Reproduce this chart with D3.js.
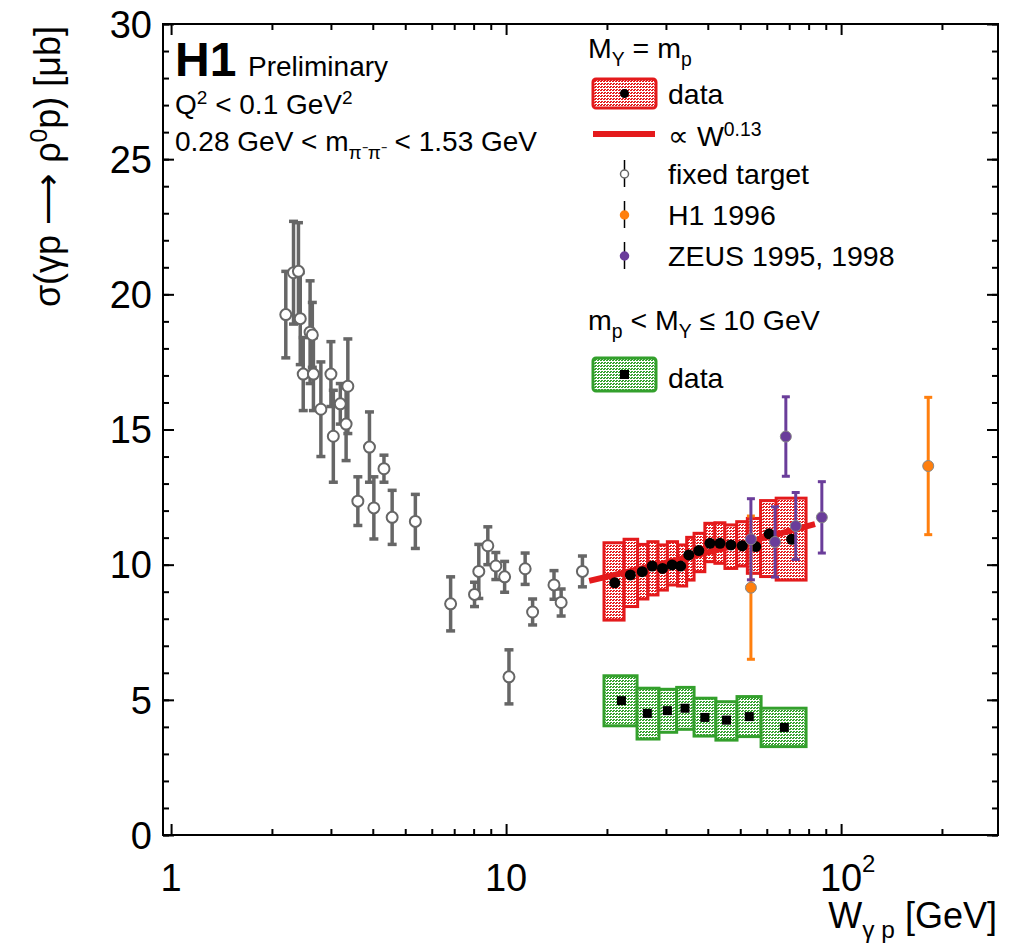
<!DOCTYPE html>
<html>
<head>
<meta charset="utf-8">
<script src="https://cdn.jsdelivr.net/npm/d3@7"></script>
<style>
  body { margin: 0; background: #fff; }
  text { font-family: "Liberation Sans", Arial, Helvetica, sans-serif; fill: #000; }
</style>
</head>
<body>
<div id="chart"></div>
<script>
// plot frame in page pixels
var frame = { left: 163, right: 998, top: 24, bottom: 835 },
    width = 1016,
    height = 945;

// fixed target measurements (W, sigma, error)
var fixedW = [2.20, 2.32, 2.40, 2.43, 2.48, 2.60, 2.64, 2.66, 2.80, 3.00, 3.05, 3.20, 3.33, 3.37, 3.61, 3.91,
              4.03, 4.32, 4.57, 5.36, 6.83, 8.05, 8.29, 8.82, 9.32, 9.90, 10.2, 11.4, 12.0, 13.9, 14.6, 16.9];
var fixedS = [19.25, 20.8, 20.85, 19.1, 17.05, 18.6, 18.5, 17.05, 15.75, 17.05, 14.75, 15.95, 15.2, 16.6, 12.35, 14.35,
              12.1, 13.55, 11.75, 11.6, 8.55, 8.9, 9.75, 10.7, 9.95, 9.55, 5.85, 9.85, 8.25, 9.25, 8.6, 9.75];
var fixedE = [1.6, 1.9, 1.8, 1.7, 1.35, 1.9, 1.2, 1.35, 1.75, 1.2, 1.7, 0.75, 1.35, 1.75, 0.9, 1.3,
              1.15, 0.5, 1.0, 1.0, 1.0, 0.45, 1.0, 0.7, 0.5, 0.57, 1.0, 0.58, 0.48, 0.53, 0.5, 0.57];

// H1 data, M_Y = m_p (bins, points, box extent)
var elEdges = [19.6, 22.5, 24.7, 26.5, 28.4, 30.3, 32.5, 34.6, 36.4, 39.2, 42.0, 45.0, 48.8, 52.5, 57.5, 64.0, 78.6];
var elW  = [21.1, 23.5, 25.5, 27.3, 29.3, 31.3, 33.2, 35.1, 37.6, 40.6, 43.5, 46.9, 50.7, 55.6, 61.0, 71.2];
var elS  = [9.33, 9.62, 9.74, 9.95, 9.86, 9.99, 9.95, 10.36, 10.52, 10.79, 10.79, 10.73, 10.70, 10.67, 11.14, 10.94];
var elLo = [7.95, 8.45, 8.73, 8.88, 9.06, 9.25, 9.21, 9.43, 9.74, 10.11, 10.05, 9.86, 9.95, 9.68, 9.56, 9.43];
var elHi = [10.81, 10.94, 10.75, 10.85, 10.73, 10.85, 10.73, 11.01, 11.16, 11.53, 11.55, 11.47, 11.59, 11.71, 12.37, 12.46];

// H1 data, m_p < M_Y <= 10 GeV
var pdEdges = [19.6, 24.6, 28.6, 32.3, 36.4, 42.3, 48.9, 57.7, 78.6];
var pdW  = [22.1, 26.4, 30.3, 34.2, 39.2, 45.5, 53.2, 67.7];
var pdS  = [4.97, 4.50, 4.60, 4.69, 4.35, 4.25, 4.38, 3.98];
var pdLo = [4.04, 3.55, 3.80, 3.91, 3.66, 3.51, 3.64, 3.27];
var pdHi = [5.89, 5.43, 5.39, 5.46, 5.06, 4.93, 5.12, 4.69];

// fit curve ~ W^0.13
var fitW = [17.7, 30, 50, 83.6];
var fitS = [9.40, 10.07, 10.76, 11.50];

// H1 1996 and ZEUS
var h1W = [53.8, 182];
var h1S = [9.15, 13.65];
var h1E = [2.65, 2.54];
var zeusW = [53.8, 63.5, 68.4, 73.2, 87.6];
var zeusS = [10.94, 10.84, 14.74, 11.43, 11.75];
var zeusE = [1.5, 1.3, 1.47, 1.24, 1.32];

// ticks
var xMajor = [1, 10, 100];
var xLabels = ["1", "10", "10"];
var xLabelSup = ["", "", "2"];
var xMinor = [2, 3, 4, 5, 6, 7, 8, 9, 20, 30, 40, 50, 60, 70, 80, 90, 200];
var yMajor = [0, 5, 10, 15, 20, 25, 30];
var yMinor = d3.range(0, 31, 1);

var red = "#e41a1c", green = "#33a02c", grey = "#666666",
    orange = "#ff7f0e", purple = "#6a3d9a";
var legSize = 28.5;

var x = d3.scaleLog().domain([0.946, 294]).range([frame.left, frame.right]);
var y = d3.scaleLinear().domain([0, 30]).range([frame.bottom, frame.top]);

// text with sub / superscripts
function rich(parent, px, py, parts, size) {
  var t = parent.append("text").attr("x", px).attr("y", py).attr("font-size", size);
  var shift = 0;
  parts.forEach(function (p) {
    var target = p[1] == "sub" ? size * 0.28 : (p[1] == "sup" ? -size * 0.36 : 0);
    t.append("tspan")
     .attr("dy", target - shift)
     .attr("font-size", p[1] ? size * 0.68 : size)
     .text(p[0]);
    shift = target;
  });
  return t;
}

var svg = d3.select("#chart").append("svg")
    .attr("width", width)
    .attr("height", height);

// dotted fill patterns
var defs = svg.append("defs");
function dots(id, col) {
  var p = defs.append("pattern").attr("id", id)
      .attr("width", 3).attr("height", 3)
      .attr("patternUnits", "userSpaceOnUse");
  p.append("rect").attr("width", 3).attr("height", 3).attr("fill", "#fff");
  p.append("rect").attr("x", 0).attr("y", 0).attr("width", 2).attr("height", 1).attr("fill", col);
  p.append("rect").attr("x", 1).attr("y", 2).attr("width", 2).attr("height", 1).attr("fill", col);
}
dots("redDots", red);
dots("greenDots", green);

// axes ticks (inward, on all four sides)
function tickAxis(axis, vals, size, tr) {
  svg.append("g")
     .attr("transform", tr)
     .call(axis.tickValues(vals).tickSize(-size).tickFormat(""))
     .call(function (g) { g.select(".domain").remove(); })
     .selectAll("line").attr("stroke", "#000").attr("stroke-width", 2);
}
tickAxis(d3.axisBottom(x), xMajor, 11, "translate(0," + frame.bottom + ")");
tickAxis(d3.axisBottom(x), xMinor, 6, "translate(0," + frame.bottom + ")");
tickAxis(d3.axisTop(x), xMajor, 11, "translate(0," + frame.top + ")");
tickAxis(d3.axisTop(x), xMinor, 6, "translate(0," + frame.top + ")");
tickAxis(d3.axisLeft(y), yMajor, 11, "translate(" + frame.left + ",0)");
tickAxis(d3.axisLeft(y), yMinor, 6, "translate(" + frame.left + ",0)");
tickAxis(d3.axisRight(y), yMajor, 11, "translate(" + frame.right + ",0)");
tickAxis(d3.axisRight(y), yMinor, 6, "translate(" + frame.right + ",0)");

// frame
svg.append("rect")
   .attr("x", frame.left).attr("y", frame.top)
   .attr("width", frame.right - frame.left)
   .attr("height", frame.bottom - frame.top)
   .attr("fill", "none")
   .attr("stroke", "#000")
   .attr("stroke-width", 2);

// tick labels
svg.selectAll(".ylab").data(yMajor).enter().append("text")
   .attr("x", frame.left - 11)
   .attr("y", function (d) { return y(d); })
   .attr("dy", "0.36em")
   .attr("text-anchor", "end")
   .attr("font-size", 38)
   .text(function (d) { return d; });

xMajor.forEach(function (d, i) {
  svg.append("text")
     .attr("x", x(d))
     .attr("y", 891)
     .attr("text-anchor", "middle")
     .attr("font-size", 38)
     .text(xLabels[i]);
  if (xLabelSup[i]) {
    svg.append("text")
       .attr("x", x(d) + 21)
       .attr("y", 872)
       .attr("font-size", 24)
       .text(xLabelSup[i]);
  }
});

// axis titles
var xt = rich(svg, 997, 928, [["W", ""], ["γ p", "sub"], [" [GeV]", ""]], 36);
xt.attr("text-anchor", "end");

var yt = rich(svg, 0, 0, [["σ(γp ", ""], ["⟶", ""], [" ρ", ""], ["0", "sup"], ["p) [μb]", ""]], 36);
yt.attr("text-anchor", "end")
  .attr("transform", "translate(60,26) rotate(-90)");

// fixed target points
var ft = svg.append("g");
fixedW.forEach(function (w, i) {
  var cx = x(w), y1 = y(fixedS[i] + fixedE[i]), y2 = y(fixedS[i] - fixedE[i]);
  ft.append("line").attr("x1", cx).attr("x2", cx).attr("y1", y1).attr("y2", y2)
    .attr("stroke", grey).attr("stroke-width", 3.5);
  ft.append("line").attr("x1", cx - 4.5).attr("x2", cx + 4.5).attr("y1", y1).attr("y2", y1)
    .attr("stroke", grey).attr("stroke-width", 3.5);
  ft.append("line").attr("x1", cx - 4.5).attr("x2", cx + 4.5).attr("y1", y2).attr("y2", y2)
    .attr("stroke", grey).attr("stroke-width", 3.5);
});
ft.selectAll("circle").data(fixedW).enter().append("circle")
  .attr("cx", function (d) { return x(d); })
  .attr("cy", function (d, i) { return y(fixedS[i]); })
  .attr("r", 5.5)
  .attr("fill", "#fff")
  .attr("stroke", grey)
  .attr("stroke-width", 2);

// H1 boxes
svg.selectAll(".elbox").data(elW).enter().append("rect")
   .attr("x", function (d, i) { return x(elEdges[i]); })
   .attr("width", function (d, i) { return x(elEdges[i + 1]) - x(elEdges[i]); })
   .attr("y", function (d, i) { return y(elHi[i]); })
   .attr("height", function (d, i) { return y(elLo[i]) - y(elHi[i]); })
   .attr("fill", "url(#redDots)")
   .attr("stroke", red)
   .attr("stroke-width", 3);

svg.selectAll(".pdbox").data(pdW).enter().append("rect")
   .attr("x", function (d, i) { return x(pdEdges[i]); })
   .attr("width", function (d, i) { return x(pdEdges[i + 1]) - x(pdEdges[i]); })
   .attr("y", function (d, i) { return y(pdHi[i]); })
   .attr("height", function (d, i) { return y(pdLo[i]) - y(pdHi[i]); })
   .attr("fill", "url(#greenDots)")
   .attr("stroke", green)
   .attr("stroke-width", 3);

// fit line
var line = d3.line()
    .x(function (d) { return x(d); })
    .y(function (d, i) { return y(fitS[i]); })
    .curve(d3.curveMonotoneX);
svg.append("path")
   .attr("d", line(fitW))
   .attr("fill", "none")
   .attr("stroke", red)
   .attr("stroke-width", 6);

// H1 points
svg.selectAll(".elpt").data(elW).enter().append("circle")
   .attr("cx", function (d) { return x(d); })
   .attr("cy", function (d, i) { return y(elS[i]); })
   .attr("r", 5.5)
   .attr("fill", "#000");

svg.selectAll(".pdpt").data(pdW).enter().append("rect")
   .attr("x", function (d) { return x(d) - 4.5; })
   .attr("y", function (d, i) { return y(pdS[i]) - 4.5; })
   .attr("width", 9)
   .attr("height", 9)
   .attr("fill", "#000");

// other HERA measurements
function errPoints(ws, ss, es, col) {
  var g = svg.append("g");
  ws.forEach(function (w, i) {
    var cx = x(w), y1 = y(ss[i] + es[i]), y2 = y(ss[i] - es[i]);
    g.append("line").attr("x1", cx).attr("x2", cx).attr("y1", y1).attr("y2", y2)
     .attr("stroke", col).attr("stroke-width", 3);
    g.append("line").attr("x1", cx - 4).attr("x2", cx + 4).attr("y1", y1).attr("y2", y1)
     .attr("stroke", col).attr("stroke-width", 3);
    g.append("line").attr("x1", cx - 4).attr("x2", cx + 4).attr("y1", y2).attr("y2", y2)
     .attr("stroke", col).attr("stroke-width", 3);
    g.append("circle").attr("cx", cx).attr("cy", y(ss[i])).attr("r", 5.5)
     .attr("fill", col).attr("stroke", "#888").attr("stroke-width", 1);
  });
}
errPoints(h1W, h1S, h1E, orange);
errPoints(zeusW, zeusS, zeusE, purple);

// top left labels
svg.append("text").attr("x", 175).attr("y", 76)
   .attr("font-size", 48).attr("font-weight", "bold").text("H1");
svg.append("text").attr("x", 248).attr("y", 76)
   .attr("font-size", 28).text("Preliminary");
rich(svg, 175, 114, [["Q", ""], ["2", "sup"], [" < 0.1 GeV", ""], ["2", "sup"]], 28);
rich(svg, 175, 151, [["0.28 GeV < m", ""], ["π⁻π⁻", "sub"], [" < 1.53 GeV", ""]], 28);

// legend
var lg = svg.append("g");
rich(lg, 588, 58, [["M", ""], ["Y", "sub"], [" = m", ""], ["p", "sub"]], legSize);

lg.append("rect").attr("x", 593).attr("y", 79).attr("width", 63).attr("height", 29)
  .attr("rx", 3).attr("fill", "url(#redDots)").attr("stroke", red).attr("stroke-width", 3);
lg.append("circle").attr("cx", 624.5).attr("cy", 93.5).attr("r", 4.5).attr("fill", "#000");
lg.append("text").attr("x", 668).attr("y", 104).attr("font-size", legSize).text("data");

lg.append("line").attr("x1", 593).attr("x2", 655).attr("y1", 134).attr("y2", 134)
  .attr("stroke", red).attr("stroke-width", 6);
rich(lg, 668, 146, [["∝ W", ""], ["0.13", "sup"]], legSize);

var legMarks = [
  { y: 174, col: "#fff", edge: grey, label: "fixed target" },
  { y: 215, col: orange, edge: orange, label: "H1 1996" },
  { y: 256, col: purple, edge: purple, label: "ZEUS 1995, 1998" }
];
legMarks.forEach(function (m) {
  lg.append("line").attr("x1", 624.5).attr("x2", 624.5).attr("y1", m.y - 14).attr("y2", m.y + 13)
    .attr("stroke", "#000").attr("stroke-width", 1.5);
  lg.append("circle").attr("cx", 624.5).attr("cy", m.y).attr("r", 4)
    .attr("fill", m.col).attr("stroke", m.edge).attr("stroke-width", 1.5);
  lg.append("text").attr("x", 668).attr("y", m.y + 10).attr("font-size", legSize).text(m.label);
});

rich(lg, 588, 330, [["m", ""], ["p", "sub"], [" < M", ""], ["Y", "sub"], [" ≤ 10 GeV", ""]], legSize);
lg.append("rect").attr("x", 593).attr("y", 358).attr("width", 63).attr("height", 33)
  .attr("rx", 3).attr("fill", "url(#greenDots)").attr("stroke", green).attr("stroke-width", 3);
lg.append("rect").attr("x", 620).attr("y", 370).attr("width", 9).attr("height", 9).attr("fill", "#000");
lg.append("text").attr("x", 668).attr("y", 388).attr("font-size", legSize).text("data");
</script>
</body>
</html>
